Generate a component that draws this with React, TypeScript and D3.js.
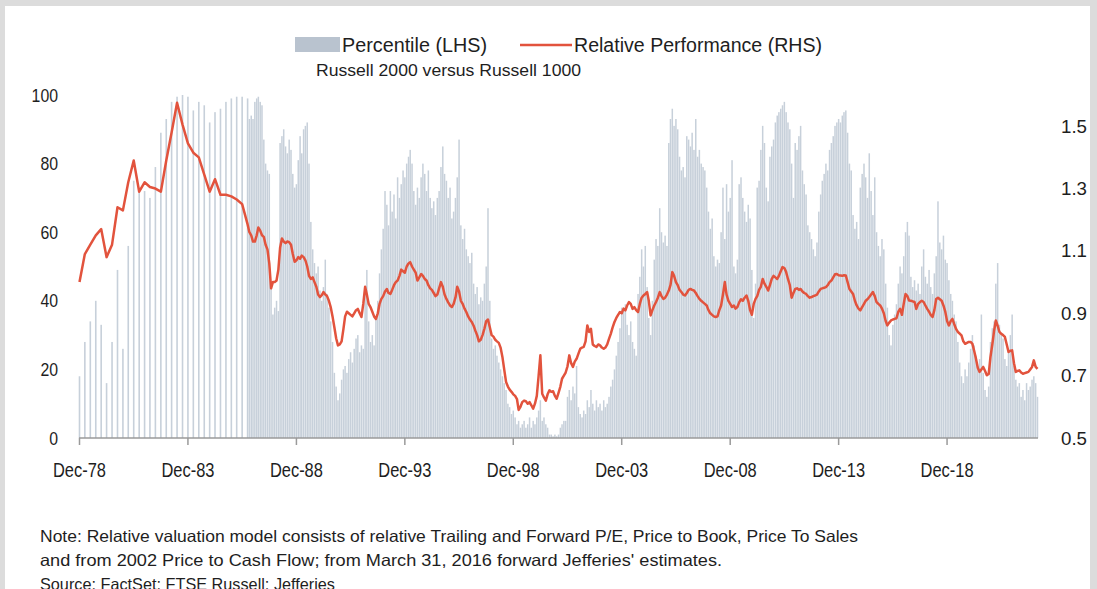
import React from 'react';
import * as d3 from 'd3';

const W = 1097;
const H = 589;

const tickYears = [1978, 1983, 1988, 1993, 1998, 2003, 2008, 2013, 2018];
const tickLabels = ['Dec-78', 'Dec-83', 'Dec-88', 'Dec-93', 'Dec-98', 'Dec-03', 'Dec-08', 'Dec-13', 'Dec-18'];
const leftTicks = [0, 20, 40, 60, 80, 100];
const rightTicks = [0.5, 0.7, 0.9, 1.1, 1.3, 1.5];

// quarterly readings, Dec-78 .. Sep-86
const quarterPct = [18, 28, 34, 40, 33, 16, 28, 49, 26, 56, 75, 73, 72, 70, 79, 89, 93, 98, 99.5, 100, 99.5, 95.5, 98, 97, 92, 95, 96, 98, 99, 99.5, 99.5, 99];
const quarterRel = [1.0, 1.09, 1.12, 1.15, 1.17, 1.08, 1.12, 1.24, 1.23, 1.32, 1.39, 1.29, 1.32, 1.305, 1.3, 1.29, 1.39, 1.48, 1.575, 1.505, 1.445, 1.415, 1.4, 1.345, 1.29, 1.33, 1.28, 1.28, 1.275, 1.265, 1.25, 1.185];

// monthly readings, Oct-86 .. Feb-23
const monthPct = [
  93, 94, 93,
  98, 99, 99.5, 98, 97, 87, 80, 78, 77, 44, 36, 38,
  40, 37, 86, 88, 90, 85, 83, 87, 84, 77, 73, 74,
  81, 88, 83, 90, 91, 92, 80, 63, 55, 51, 48, 50,
  43, 40, 44, 52, 42, 38, 34, 28, 19, 15, 11, 13,
  17, 20, 21, 19, 23, 25, 22, 26, 29, 30, 25, 27,
  26, 42, 49, 34, 28, 30, 27, 35, 40, 48, 55, 61,
  72, 68, 62, 72, 66, 71, 64, 76, 70, 74, 78, 76,
  80, 82, 84, 80, 72, 68, 73, 70, 76, 80, 77, 72,
  78, 70, 67, 69, 65, 70, 72, 79, 85, 77, 75, 70,
  73, 64, 66, 70, 76, 87, 62, 58, 61, 55, 53, 51,
  54, 45, 42, 44, 39, 41, 40, 45, 50, 67, 40, 29,
  26, 27, 24, 22, 20, 18, 16, 14, 10, 9, 7, 8,
  6, 4, 5, 3, 4, 5, 3, 4, 6, 3, 5, 4,
  6, 8, 11, 5, 6, 4, 3, 1, 1, 0.5, 1, 0.5,
  1, 3, 4, 5, 5, 12, 14, 11, 15, 13, 21, 9,
  7, 6, 8, 7, 11, 9, 14, 10, 8, 11, 9, 10,
  8, 11, 9, 10, 12, 15, 17, 20, 24, 28, 32, 38,
  37, 39, 33, 30, 34, 28, 26, 24, 42, 47, 55, 50,
  56, 44, 35, 30, 40, 52, 58, 56, 67, 60, 57, 59,
  56, 86, 93, 96, 91, 93, 90, 82, 78, 79, 76, 88,
  87, 85, 89, 84, 93, 82, 84, 80, 79, 78, 73, 66,
  61, 64, 53, 50, 52, 51, 60, 73, 58, 74, 66, 70,
  81, 50, 48, 52, 74, 76, 70, 66, 63, 68, 64, 49,
  35, 45, 73, 75, 84, 91, 86, 73, 69, 82, 85, 87,
  92, 94, 95, 96, 97, 98, 95, 92, 90, 80, 70, 86,
  84, 88, 91, 78, 74, 71, 62, 60, 58, 55, 53, 57,
  66, 71, 75, 77, 80, 78, 84, 86, 88, 91, 92, 93,
  92, 94, 95, 95.5, 89, 80, 78, 65, 61, 63, 58, 73,
  77, 80, 76, 70, 83, 72, 65, 76, 60, 56, 53, 58,
  55, 45, 38, 30, 27, 33, 36, 39, 45, 50, 48, 53,
  60, 63, 59, 47, 44, 46, 43, 45, 42, 50, 55, 47,
  45, 49, 44, 42, 48, 53, 69, 57, 55, 59, 52, 51,
  46, 42, 40, 36, 34, 28, 22, 18, 16, 20, 18, 22,
  26, 30, 27, 24, 21, 23, 36, 19, 14, 12, 15, 28,
  32, 34, 45, 51, 33, 30, 29, 23, 21, 25, 30, 36,
  21, 17, 15, 16, 12, 14, 11, 16, 14, 15, 17, 18,
  16, 12,
];

const monthRel = [
  1.16, 1.15, 1.13,
  1.13, 1.15, 1.175, 1.165, 1.15, 1.145, 1.12, 1.105, 1.06, 0.98, 1.0, 1.0,
  1.005, 1.04, 1.11, 1.14, 1.13, 1.125, 1.13, 1.128, 1.12, 1.09, 1.065, 1.07,
  1.08, 1.075, 1.085, 1.08, 1.07, 1.05, 1.02, 1.01, 1.015, 1.0, 0.985, 0.96,
  0.952, 0.958, 0.968, 0.96, 0.955, 0.94, 0.92, 0.89, 0.855, 0.82, 0.797, 0.8,
  0.81, 0.85, 0.89, 0.905, 0.9, 0.895, 0.89, 0.9, 0.91, 0.914, 0.9, 0.888,
  0.93, 0.985, 0.96, 0.93, 0.92, 0.905, 0.89, 0.882, 0.9, 0.93, 0.946, 0.955,
  0.97, 0.978, 0.965, 0.962, 0.975, 0.99, 1.0, 1.005, 1.02, 1.04, 1.035, 1.03,
  1.05, 1.06, 1.064, 1.05, 1.04, 1.03, 1.005, 1.015, 1.026, 1.02, 1.01, 1.005,
  0.99, 0.98, 0.975, 0.965, 0.955, 0.96, 0.98, 1.0, 0.985, 0.96, 0.946, 0.935,
  0.925, 0.92, 0.93, 0.95, 0.985, 0.97, 0.94, 0.93, 0.915, 0.904, 0.89, 0.88,
  0.872, 0.86, 0.845, 0.83, 0.81, 0.815, 0.83, 0.85, 0.875, 0.88, 0.855, 0.83,
  0.825, 0.815, 0.81, 0.805, 0.79, 0.76, 0.72, 0.68, 0.665, 0.655, 0.648, 0.64,
  0.635, 0.625, 0.59, 0.6, 0.615, 0.62, 0.618, 0.61, 0.615, 0.605, 0.594, 0.61,
  0.635, 0.7, 0.765, 0.642, 0.63, 0.62, 0.64, 0.653, 0.648, 0.65, 0.635, 0.626,
  0.645, 0.665, 0.69, 0.7, 0.71, 0.73, 0.765, 0.74, 0.728, 0.745, 0.754, 0.77,
  0.786, 0.79, 0.792, 0.81, 0.861, 0.84, 0.85, 0.8, 0.795, 0.792, 0.8, 0.797,
  0.79, 0.786, 0.79, 0.8, 0.818, 0.835, 0.855, 0.872, 0.885, 0.895, 0.904, 0.9,
  0.915, 0.909, 0.925, 0.936, 0.93, 0.914, 0.92, 0.91, 0.904, 0.93, 0.95, 0.957,
  0.962, 0.968, 0.94, 0.893, 0.91, 0.925, 0.936, 0.95, 0.968, 0.955, 0.946, 0.95,
  0.96, 0.973, 0.99, 1.032, 1.02, 1.0, 0.99, 0.975, 0.968, 0.96, 0.957, 0.965,
  0.975, 0.978, 0.975, 0.973, 0.965, 0.955, 0.946, 0.94, 0.935, 0.93, 0.925, 0.91,
  0.9, 0.895, 0.89, 0.888, 0.89, 0.91, 0.925, 0.96, 1.0, 0.96, 0.94, 0.93,
  0.92, 0.925, 0.915, 0.92, 0.935, 0.945, 0.94, 0.95, 0.957, 0.94, 0.91, 0.895,
  0.93, 0.946, 0.955, 0.975, 0.985, 1.01, 0.995, 0.985, 0.973, 0.99, 1.01, 1.02,
  1.015, 1.01, 1.02, 1.035, 1.048, 1.045, 1.032, 1.01, 0.99, 0.95, 0.965, 0.978,
  0.98, 0.975, 0.978, 0.97, 0.965, 0.962, 0.955, 0.95, 0.952, 0.955, 0.957, 0.96,
  0.97, 0.978, 0.98, 0.982, 0.984, 0.99, 1.0, 1.005, 1.015, 1.025, 1.026, 1.022,
  1.021, 1.02, 1.022, 1.021, 1.0, 0.978, 0.97, 0.962, 0.94, 0.925, 0.915, 0.909,
  0.92, 0.93, 0.94, 0.945, 0.952, 0.96, 0.968, 0.955, 0.936, 0.93, 0.925, 0.915,
  0.9, 0.875, 0.861, 0.87, 0.877, 0.88, 0.882, 0.884, 0.905, 0.914, 0.895, 0.93,
  0.962, 0.955, 0.941, 0.94, 0.938, 0.936, 0.914, 0.93, 0.936, 0.94, 0.936, 0.925,
  0.914, 0.905, 0.895, 0.888, 0.91, 0.946, 0.95, 0.945, 0.94, 0.925, 0.905, 0.875,
  0.861, 0.875, 0.882, 0.865, 0.85, 0.84, 0.835, 0.829, 0.81, 0.802, 0.805, 0.808,
  0.808, 0.802, 0.78, 0.754, 0.725, 0.712, 0.72, 0.728, 0.715, 0.701, 0.705, 0.76,
  0.8, 0.845, 0.877, 0.86, 0.84, 0.834, 0.83, 0.824, 0.8, 0.776, 0.78, 0.781,
  0.74, 0.712, 0.715, 0.717, 0.71, 0.706, 0.708, 0.71, 0.712, 0.72, 0.728, 0.749,
  0.728, 0.722,
];

const noteLines = [
  'Note: Relative valuation model consists of relative Trailing and Forward P/E, Price to Book, Price To Sales',
  "and from 2002 Price to Cash Flow; from March 31, 2016 forward Jefferies' estimates.",
  'Source: FactSet; FTSE Russell; Jefferies',
];

const font = "'Liberation Sans', Arial, sans-serif";
const barColor = '#c7d0da';
const lineColor = '#e2533d';
const textColor = '#1e1e1e';

type Pt = { date: Date; pct: number; rel: number; q: boolean };

const App: React.FC = () => {
  const start = new Date(1978, 11, 1);
  const monthStart = new Date(1986, 9, 1);

  const points: Pt[] = [
    ...quarterPct.map((v, i) => ({ date: d3.timeMonth.offset(start, 3 * i), pct: v, rel: quarterRel[i], q: true })),
    ...monthPct.map((v, i) => ({ date: d3.timeMonth.offset(monthStart, i), pct: v, rel: monthRel[i], q: false })),
  ];

  const x = d3.scaleTime()
    .domain([start, new Date(2023, 1, 1)])
    .range([79.5, 1037.5]);
  const yL = d3.scaleLinear().domain([0, 100]).range([438, 95]);
  const yR = d3.scaleLinear().domain([0.5, 1.6]).range([438, 95]);

  const line = d3.line<Pt>()
    .x(d => x(d.date))
    .y(d => yR(d.rel));

  const base = yL(0);

  return (
    <svg width={W} height={H} style={{ position: 'absolute', left: 0, top: 0, background: '#fff' }} fontFamily={font}>
      {/* page frame */}
      <rect x={0} y={0} width={W} height={6} fill='#dcdcdc' />
      <rect x={0} y={0} width={5} height={H} fill='#dcdcdc' />
      <rect x={W - 7} y={0} width={7} height={H} fill='#dcdcdc' />

      {/* legend */}
      <rect x={295} y={37} width={45} height={15} fill='#b9c3cf' />
      <text x={342} y={52} fontSize={20} fill={textColor} textLength={145} lengthAdjust='spacingAndGlyphs'>Percentile (LHS)</text>
      <line x1={520} x2={572} y1={45} y2={45} stroke={lineColor} strokeWidth={2.5} />
      <text x={574} y={52} fontSize={20} fill={textColor} textLength={248} lengthAdjust='spacingAndGlyphs'>Relative Performance (RHS)</text>
      <text x={316} y={76} fontSize={16.5} fill={textColor} textLength={265} lengthAdjust='spacingAndGlyphs'>Russell 2000 versus Russell 1000</text>

      {/* bars */}
      {points.map((d, i) => {
        const w = d.q ? 1.6 : 1.5;
        return (
          <rect key={i} x={x(d.date) - w / 2} y={yL(d.pct)} width={w} height={base - yL(d.pct)} fill={barColor} />
        );
      })}

      {/* x axis */}
      <line x1={79} x2={1038} y1={base} y2={base} stroke='#9a9a9a' strokeWidth={1.5} />
      {tickYears.map((yr, i) => {
        const tx = x(new Date(yr, 11, 1));
        return (
          <g key={yr}>
            <line x1={tx} x2={tx} y1={base} y2={base + 7} stroke='#9a9a9a' strokeWidth={1.5} />
            <text x={tx} y={477} fontSize={20} textAnchor='middle' fill={textColor} textLength={53} lengthAdjust='spacingAndGlyphs'>{tickLabels[i]}</text>
          </g>
        );
      })}

      {/* relative performance line */}
      <path d={line(points) || ''} fill='none' stroke={lineColor} strokeWidth={2.5} strokeLinejoin='round' />

      {/* left axis labels */}
      {leftTicks.map(v => (
        <text key={v} x={58} y={yL(v) + 6.5} fontSize={19} textAnchor='end' fill={textColor}
          textLength={String(v).length * 8.8} lengthAdjust='spacingAndGlyphs'>{v}</text>
      ))}

      {/* right axis labels */}
      {rightTicks.map(v => (
        <text key={v} x={1061} y={yR(v) + 6.5} fontSize={19} fill={textColor} textLength={26} lengthAdjust='spacingAndGlyphs'>{v.toFixed(1)}</text>
      ))}

      {/* notes */}
      <text x={40} y={542} fontSize={16.5} fill={textColor} textLength={818} lengthAdjust='spacingAndGlyphs'>{noteLines[0]}</text>
      <text x={40} y={566} fontSize={16.5} fill={textColor} textLength={682} lengthAdjust='spacingAndGlyphs'>{noteLines[1]}</text>
      <text x={40} y={590} fontSize={16.5} fill={textColor} textLength={295} lengthAdjust='spacingAndGlyphs'>{noteLines[2]}</text>
    </svg>
  );
};

export default App;
